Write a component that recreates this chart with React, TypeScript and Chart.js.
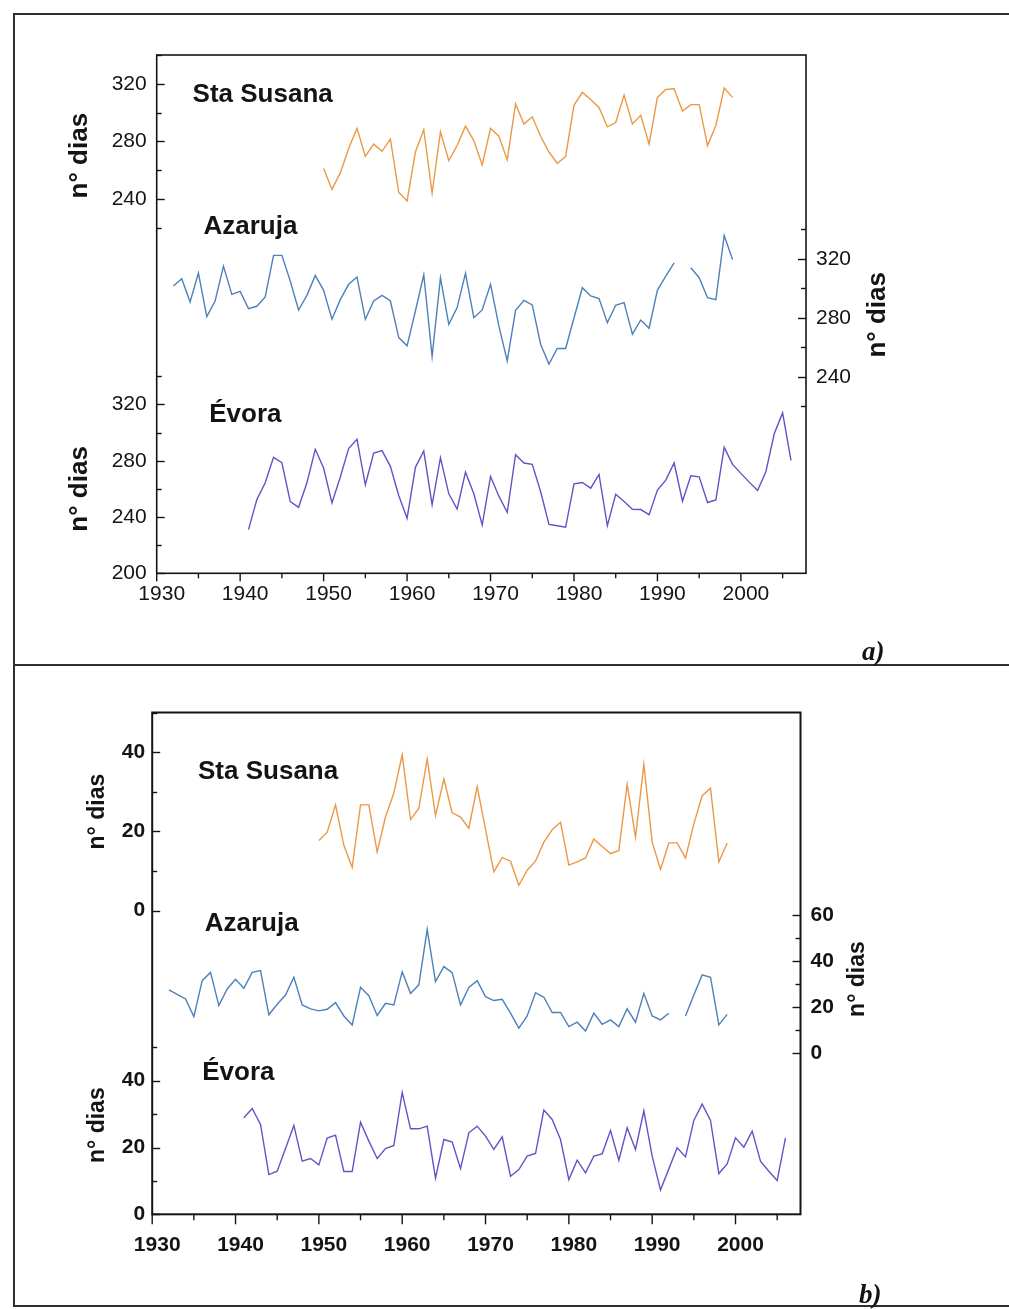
import React, { useEffect, useRef } from 'react';
import { Chart, registerables } from 'chart.js';

Chart.register(...registerables);

// ---------- DATA ----------
const years = [
  1932, 1933, 1934, 1935, 1936, 1937, 1938, 1939, 1940, 1941,
  1942, 1943, 1944, 1945, 1946, 1947, 1948, 1949, 1950, 1951,
  1952, 1953, 1954, 1955, 1956, 1957, 1958, 1959, 1960, 1961,
  1962, 1963, 1964, 1965, 1966, 1967, 1968, 1969, 1970, 1971,
  1972, 1973, 1974, 1975, 1976, 1977, 1978, 1979, 1980, 1981,
  1982, 1983, 1984, 1985, 1986, 1987, 1988, 1989, 1990, 1991,
  1992, 1993, 1994, 1995, 1996, 1997, 1998, 1999, 2000, 2001,
  2002, 2003, 2004, 2005, 2006,
];

// panel a) (nº dias) — aligned with `years`
const staSusanaA = [
  null, null, null, null, null, null, null, null, null, null,
  null, null, null, null, null, null, null, null,
  261, 246.5, 258, 275, 289, 269.5, 278, 273, 281.5, 244.5,
  238.5, 272.5, 288, 244, 286.5, 266.5, 277, 290.5, 280.5, 263.5,
  289, 283.5, 267, 306, 292, 297, 283.5, 272.5, 264.5, 269.5,
  305, 314, 309, 303.5, 290, 293, 312, 292, 298, 278,
  310.5, 316, 316.5, 301, 305.5, 305.5, 277, 291, 317, 310.5,
  null, null, null, null, null, null, null,
];
const azarujaA = [
  301.5, 306.5, 290.7, 310.3, 280.8, 291.4, 315, 295.9, 297.9, 286.2,
  287.8, 294.1, 322.3, 322.3, 304.9, 285.3, 295.2, 308.7, 298.6, 279,
  292.3, 302.7, 307.6, 279, 291.4, 295.2, 291.4, 266.6, 261, 284.6,
  309.2, 253.8, 307.2, 275.6, 286.9, 310.1, 280.1, 285.3, 302.7, 274.5,
  250.8, 285.1, 291.8, 288.7, 262.1, 248.6, 259.2, 259.2, 279.9, 300.4,
  294.8, 293, 276.7, 288.5, 290.3, 268.9, 278.5, 272.9, 298.8, 308.3,
  317.3, null, 313.9, 307.2, 293.6, 292.3, 335.8, 319.5,
  null, null, null, null, null, null, null,
];
const evoraA = [
  null, null, null, null, null, null, null, null, null,
  231, 252.4, 264.3, 282.4, 278.6, 251, 246.9, 264.3, 288.1, 274.8,
  250, 268.4, 288.6, 295.2, 262.9, 285.5, 287.2, 276, 255.3, 239.1,
  275.3, 286.9, 248.8, 282.2, 256.5, 245.7, 271.9, 256.5, 234.3, 268.8,
  254.8, 243.4, 284.3, 278.4, 277.4, 258.1, 234.8, 233.8, 232.7, 263.6,
  264.5, 260.5, 270.3, 233.8, 256.2, 251, 245.5, 245.3, 241.7, 259.1,
  266.2, 278.4, 251.2, 269.3, 268.6, 250.3, 252.2, 289.5, 277.4, 271,
  264.8, 258.8, 272.4, 299.3, 314, 280.3,
];

// panel b) (nº dias) — aligned with `years`
const staSusanaB = [
  null, null, null, null, null, null, null, null, null, null,
  null, null, null, null, null, null, null, null,
  17.7, 19.8, 26.7, 16.5, 10.9, 26.7, 26.7, 14.8, 23.7, 29.7,
  39.3, 23, 25.8, 38.3, 24, 33.2, 24.7, 23.6, 20.8, 31.3,
  20.5, 9.8, 13.4, 12.5, 6.4, 10.2, 12.5, 17.3, 20.4, 22.3,
  11.5, 12.3, 13.3, 18.1, 16.2, 14.4, 15.2, 31.9, 18.5, 36.9,
  17.3, 10.4, 17.1, 17.1, 13.3, 21.9, 29, 30.9, 12.3, 17.1,
  null, null, null, null, null, null, null,
];
const azarujaB = [
  27.5, 25.6, 23.6, 15.9, 31.5, 35.1, 20.7, 27.9, 32.1, 28.2,
  35.1, 35.9, 16.7, 21.3, 25.3, 33, 21, 19.3, 18.4, 19.1,
  22, 16.2, 12.3, 28.6, 25, 16.4, 21.7, 21, 35.4, 26,
  29.7, 53.8, 31.1, 37.6, 35, 21, 28.6, 31.5, 24.6, 22.9,
  23.4, 17.4, 10.9, 16.2, 26.3, 24.3, 17.7, 17.7, 11.6, 13.5,
  9.7, 17.4, 12.6, 14.5, 11.6, 19.3, 13.5, 26, 16.2, 14.5,
  17.4, null, 16.2, 25.3, 34, 33, 12.3, 16.9,
  null, null, null, null, null, null, null,
];
const evoraB = [
  null, null, null, null, null, null, null, null, null,
  28.9, 31.7, 26.9, 11.9, 12.9, 19.7, 26.6, 15.9, 16.7, 14.8,
  22.8, 23.7, 12.8, 12.8, 27.6, 21.9, 16.7, 19.7, 20.6, 36.5,
  25.6, 25.6, 26.4, 10.8, 22.4, 21.6, 13.7, 24.4, 26.4, 23.4,
  19.4, 23.2, 11.4, 13.4, 17.4, 18.2, 31.2, 28.4, 22.4, 10.4,
  16.2, 12.4, 17.4, 18.1, 25.1, 16.2, 25.9, 19.4, 31, 17.4,
  7.3, 13.6, 19.9, 17.2, 28.1, 33, 28.1, 12.2, 15.1, 22.9,
  20.1, 24.9, 15.9, 12.9, 10.1, 22.9,
];

const xTickLabels = [1930, 1940, 1950, 1960, 1970, 1980, 1990, 2000];
const staTicksA = [240, 280, 320];
const azaTicksA = [240, 280, 320];
const evoTicksA = [200, 240, 280, 320];
const staTicksB = [0, 20, 40];
const azaTicksB = [0, 20, 40, 60];
const evoTicksB = [0, 20, 40];

const seriesNames = ['Sta Susana', 'Azaruja', 'Évora'];
const axisTitle = 'n° dias';

// ---------- STYLE ----------
const ORANGE = '#ec9844';
const BLUE = '#4e80ba';
const PURPLE = '#6a50c6';
const INK = '#141414';
const SANS = '"Liberation Sans", Arial, Helvetica, sans-serif';

type Seg = { id: string; h: number; min: number; max: number; labels?: number[] };
type TickSpec = { id: string; side: 'left' | 'right'; from: number; to: number; step: number; major: number[] };
type TitleSpec = { id: string; side: 'left' | 'right'; value: number; dx: number };
type NoteSpec = { text: string; x: number; id: string; y: number };
type Panel = {
  padTop: number; leftW: number; rightW: number; bottomH: number; xMax: number;
  left: Seg[]; right: Seg[];
  series: { label: string; values: (number | null)[]; color: string; axis: string }[];
  tickFont: { size: number; weight: string }; padL: number; padR: number; xPad: number;
  marks: TickSpec[]; titles: TitleSpec[]; titleFont: string; notes: NoteSpec[]; noteFont: string;
  frameW: number; xMajor: number; xMinor: number; yMajor: number; yMinor: number;
};

function makeConfig(p: Panel): any {
  const tickFont = { family: SANS, size: p.tickFont.size, weight: p.tickFont.weight as any };
  const scales: any = {
    x: {
      type: 'linear', position: 'bottom', min: 1930, max: p.xMax,
      grid: { display: false, drawTicks: false }, border: { display: false },
      ticks: {
        font: tickFont, color: INK, padding: p.xPad, labelOffset: 5, maxRotation: 0, minRotation: 0,
        autoSkip: false, callback: (v: number) => String(v),
      },
      afterBuildTicks: (s: any) => { s.ticks = xTickLabels.map((value) => ({ value })); },
      afterFit: (s: any) => { s.height = p.bottomH; },
    },
  };
  const addSeg = (seg: Seg, side: 'left' | 'right', weight: number, width: number, pad: number) => {
    scales[seg.id] = {
      type: 'linear', position: side, stack: side === 'left' ? 'L' : 'R', stackWeight: seg.h, weight,
      min: seg.min, max: seg.max,
      grid: { display: false, drawTicks: false }, border: { display: false },
      ticks: {
        display: !!seg.labels, font: tickFont, color: INK, padding: pad, autoSkip: false,
        callback: (v: number) => String(v),
      },
      afterBuildTicks: (s: any) => { s.ticks = (seg.labels || []).map((value) => ({ value })); },
      afterFit: (s: any) => { s.width = width; },
    };
  };
  p.left.forEach((seg, i) => addSeg(seg, 'left', p.left.length - i, p.leftW, p.padL));
  p.right.forEach((seg, i) => addSeg(seg, 'right', i + 1, p.rightW, p.padR));

  const decor = {
    id: 'decor',
    afterDraw(chart: any) {
      const ctx = chart.ctx as CanvasRenderingContext2D;
      const { left, right, top, bottom } = chart.chartArea;
      ctx.save();
      ctx.strokeStyle = INK;
      ctx.lineWidth = p.frameW;
      ctx.strokeRect(left, top, right - left, bottom - top);
      ctx.lineWidth = 1.4;
      const xs = chart.scales.x;
      for (let t = 1930; t <= 2005; t += 5) {
        const px = xs.getPixelForValue(t);
        const len = t % 10 === 0 ? p.xMajor : p.xMinor;
        ctx.beginPath(); ctx.moveTo(px, bottom); ctx.lineTo(px, bottom + len); ctx.stroke();
      }
      for (const m of p.marks) {
        const s = chart.scales[m.id];
        for (let v = m.from; v <= m.to + 1e-6; v += m.step) {
          const py = Math.round(s.getPixelForValue(v)) + 0.5;
          const len = m.major.includes(v) ? p.yMajor : p.yMinor;
          const x0 = m.side === 'left' ? left : right;
          const x1 = m.side === 'left' ? left + len : right - len;
          ctx.beginPath(); ctx.moveTo(x0, py); ctx.lineTo(x1, py); ctx.stroke();
        }
      }
      ctx.fillStyle = INK;
      ctx.font = p.titleFont;
      ctx.textAlign = 'center';
      ctx.textBaseline = 'middle';
      for (const t of p.titles) {
        const s = chart.scales[t.id];
        const cy = s.getPixelForValue(t.value);
        const cx = t.side === 'left' ? left + t.dx : right + t.dx;
        ctx.save(); ctx.translate(cx, cy); ctx.rotate(-Math.PI / 2);
        ctx.fillText(axisTitle, 0, 0);
        ctx.restore();
      }
      ctx.font = p.noteFont;
      ctx.textAlign = 'left';
      ctx.textBaseline = 'alphabetic';
      for (const n of p.notes) {
        ctx.fillText(n.text, xs.getPixelForValue(n.x), chart.scales[n.id].getPixelForValue(n.y));
      }
      ctx.restore();
    },
  };

  return {
    type: 'line',
    data: {
      datasets: p.series.map((s) => ({
        label: s.label,
        data: years.map((x, i) => ({ x, y: s.values[i] })),
        xAxisID: 'x', yAxisID: s.axis,
        borderColor: s.color, backgroundColor: s.color, borderWidth: 1.4,
        pointRadius: 0, pointHoverRadius: 0, fill: false, tension: 0, spanGaps: false,
      })),
    },
    options: {
      responsive: false, animation: false, maintainAspectRatio: false,
      layout: { padding: { top: p.padTop, left: 0, right: 0, bottom: 0 } },
      plugins: { legend: { display: false }, tooltip: { enabled: false }, title: { display: false } },
      events: [],
      scales,
    },
    plugins: [decor],
  };
}

const panelA: Panel = {
  padTop: 35, leftW: 136.7, rightW: 194, bottomH: 86.7, xMax: 2007.8,
  left: [
    { id: 'ySta', h: 172.5, min: 220, max: 340, labels: staTicksA },
    { id: 'yGapL', h: 148.8, min: 0, max: 1 },
    { id: 'yEvo', h: 197, min: 200, max: 340, labels: evoTicksA },
  ],
  right: [
    { id: 'yGapRT', h: 174.3, min: 0, max: 1 },
    { id: 'yAza', h: 177, min: 220, max: 340, labels: azaTicksA },
    { id: 'yGapRB', h: 167, min: 0, max: 1 },
  ],
  series: [
    { label: seriesNames[0], values: staSusanaA, color: ORANGE, axis: 'ySta' },
    { label: seriesNames[1], values: azarujaA, color: BLUE, axis: 'yAza' },
    { label: seriesNames[2], values: evoraA, color: PURPLE, axis: 'yEvo' },
  ],
  tickFont: { size: 21, weight: 'normal' }, padL: 10, padR: 10, xPad: 8,
  marks: [
    { id: 'ySta', side: 'left', from: 220, to: 340, step: 20, major: staTicksA },
    { id: 'yEvo', side: 'left', from: 200, to: 340, step: 20, major: evoTicksA },
    { id: 'yAza', side: 'right', from: 220, to: 340, step: 20, major: azaTicksA },
  ],
  titles: [
    { id: 'ySta', side: 'left', value: 270, dx: -77 },
    { id: 'yEvo', side: 'left', value: 260, dx: -77 },
    { id: 'yAza', side: 'right', value: 282, dx: 72 },
  ],
  titleFont: `bold 26px ${SANS}`,
  notes: [
    { text: seriesNames[0], x: 1934.3, id: 'ySta', y: 307.2 },
    { text: seriesNames[1], x: 1935.6, id: 'yAza', y: 337 },
    { text: seriesNames[2], x: 1936.3, id: 'yEvo', y: 307.7 },
  ],
  noteFont: `bold 26px ${SANS}`,
  frameW: 1.6, xMajor: 8, xMinor: 5, yMajor: 8, yMinor: 5,
};

const panelB: Panel = {
  padTop: 32.5, leftW: 132.2, rightW: 199.5, bottomH: 85.7, xMax: 2007.8,
  left: [
    { id: 'ySta', h: 198.2, min: 0, max: 50, labels: staTicksB },
    { id: 'yGapL', h: 136.6, min: 0, max: 1 },
    { id: 'yEvo', h: 167, min: 0, max: 50, labels: evoTicksB },
  ],
  right: [
    { id: 'yGapRT', h: 202.5, min: 0, max: 1 },
    { id: 'yAza', h: 138.3, min: 0, max: 60, labels: azaTicksB },
    { id: 'yGapRB', h: 161, min: 0, max: 1 },
  ],
  series: [
    { label: seriesNames[0], values: staSusanaB, color: ORANGE, axis: 'ySta' },
    { label: seriesNames[1], values: azarujaB, color: BLUE, axis: 'yAza' },
    { label: seriesNames[2], values: evoraB, color: PURPLE, axis: 'yEvo' },
  ],
  tickFont: { size: 21, weight: 'bold' }, padL: 7, padR: 10, xPad: 18,
  marks: [
    { id: 'ySta', side: 'left', from: 0, to: 50, step: 10, major: staTicksB },
    { id: 'yEvo', side: 'left', from: 0, to: 50, step: 10, major: evoTicksB },
    { id: 'yAza', side: 'right', from: 0, to: 60, step: 10, major: azaTicksB },
  ],
  titles: [
    { id: 'ySta', side: 'left', value: 25, dx: -55 },
    { id: 'yEvo', side: 'left', value: 26.7, dx: -55 },
    { id: 'yAza', side: 'right', value: 32.2, dx: 57 },
  ],
  titleFont: `bold 23px ${SANS}`,
  notes: [
    { text: seriesNames[0], x: 1935.5, id: 'ySta', y: 33.2 },
    { text: seriesNames[1], x: 1936.3, id: 'yAza', y: 53 },
    { text: seriesNames[2], x: 1936, id: 'yEvo', y: 40.2 },
  ],
  noteFont: `bold 26px ${SANS}`,
  frameW: 2, xMajor: 10, xMinor: 6, yMajor: 8, yMinor: 5,
};

function PanelChart({ panel, left, top, width, height }: { panel: Panel; left: number; top: number; width: number; height: number }) {
  const ref = useRef<HTMLCanvasElement | null>(null);
  useEffect(() => {
    if (!ref.current) return;
    const chart = new Chart(ref.current, makeConfig(panel));
    return () => chart.destroy();
  }, [panel]);
  return (
    <canvas
      ref={ref}
      width={width}
      height={height}
      style={{ position: 'absolute', left, top, width, height }}
    />
  );
}

const line = (l: number, t: number, w: number, h: number): React.CSSProperties => ({
  position: 'absolute', left: l, top: t, width: w, height: h, background: '#2e2e33',
});

export default function App() {
  return (
    <div style={{ position: 'fixed', left: 0, top: 0, width: 1009, height: 1309, background: '#ffffff', overflow: 'hidden' }}>
      <div style={line(13, 13, 996, 2)} />
      <div style={line(13, 13, 2, 1294)} />
      <div style={line(13, 664, 996, 2)} />
      <div style={line(13, 1305, 996, 2)} />
      <PanelChart panel={panelA} left={20} top={20} width={980} height={640} />
      <PanelChart panel={panelB} left={20} top={680} width={980} height={620} />
      <div style={{ position: 'absolute', left: 862, top: 636, font: `italic bold 27px "Liberation Serif", "Times New Roman", serif`, color: INK, lineHeight: '30px' }}>a)</div>
      <div style={{ position: 'absolute', left: 859, top: 1279, font: `italic bold 27px "Liberation Serif", "Times New Roman", serif`, color: INK, lineHeight: '30px' }}>b)</div>
    </div>
  );
}
